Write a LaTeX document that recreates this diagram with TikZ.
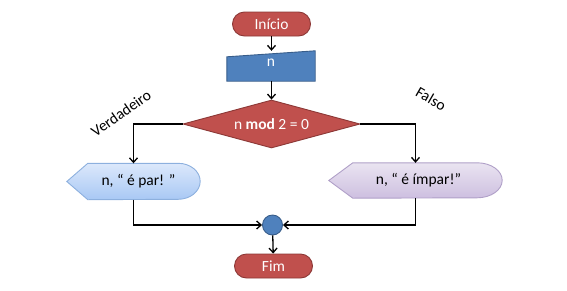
\documentclass[tikz,border=0pt]{standalone}
\usepackage{fontspec}
\setmainfont{Carlito}
\usetikzlibrary{shapes.geometric,arrows.meta}
\definecolor{redfill}{HTML}{C0504D}
\definecolor{redline}{HTML}{8C3836}
\definecolor{bluefill}{HTML}{4F81BD}
\definecolor{blueline}{HTML}{385D8A}
\definecolor{lbtop}{HTML}{DCE8FB}
\definecolor{lbbot}{HTML}{A8C8F4}
\definecolor{lbline}{HTML}{8DB0DE}
\definecolor{lptop}{HTML}{EAE4F1}
\definecolor{lpbot}{HTML}{CDBFE0}
\definecolor{lpline}{HTML}{B0A0C8}
\newcommand{\txtsize}{\fontsize{15.5}{18}\selectfont}
\tikzset{
  terminal/.style={rectangle, rounded corners=12pt, fill=redfill, draw=redline, line width=0.9pt,
    minimum width=78pt, minimum height=24pt, inner sep=0pt, text=white, font=\txtsize},
  holder/.style={rectangle, inner sep=0pt, font=\txtsize},
  flow/.style={draw=black, line width=1.3pt, -{Straight Barb[length=4.5pt,width=8pt,line width=1.3pt]}},
  lbl/.style={font=\txtsize}
}
\begin{document}
\begin{tikzpicture}[x=1pt,y=-1pt]
\useasboundingbox (0,0) rectangle (567,290);

% start / end terminators
\node[terminal] (ini) at (271.5,24) {Início};
\node[terminal] (fim) at (273.5,266) {Fim};

% manual input box for n
\node[holder, minimum width=88pt, minimum height=30pt] (inp) at (271,66) {};
\fill[bluefill, draw=blueline, line width=0.9pt]
  ([yshift=-6pt]inp.north west) -- (inp.north east) -- (inp.south east) -- (inp.south west) -- cycle;
\node[holder, text=white] at ([yshift=3pt]inp.center) {n};

% decision
\node[diamond, aspect=3.69, minimum width=177pt, minimum height=48pt, inner sep=0pt,
      fill=redfill, draw=redline, line width=0.9pt, text=white,
      font=\txtsize] (dec) at (271.5,124) {n \textbf{mod} 2 = 0};

% display boxes
\node[holder, minimum width=133pt, minimum height=36pt] (par) at (133.5,181.5) {};
\shade[top color=lbtop, bottom color=lbbot, draw=lbline, line width=0.9pt]
  (par.west) -- ([xshift=21pt]par.north west) -- ([xshift=-22pt]par.north east)
  arc[start angle=90, end angle=-90, x radius=22pt, y radius=18pt]
  -- ([xshift=21pt]par.south west) -- cycle;
\node[holder] at ([xshift=5pt]par.center) {n, “ é par! ”};

\node[holder, minimum width=173pt, minimum height=35pt] (imp) at (415.5,180.5) {};
\shade[top color=lptop, bottom color=lpbot, draw=lpline, line width=0.9pt]
  (imp.west) -- ([xshift=24pt]imp.north west) -- ([xshift=-25pt]imp.north east)
  arc[start angle=90, end angle=-90, x radius=25pt, y radius=17.5pt]
  -- ([xshift=24pt]imp.south west) -- cycle;
\node[holder] at ([xshift=3pt]imp.center) {n, “ é ímpar!”};

% junction
\node[circle, minimum size=20pt, inner sep=0pt, fill=bluefill, draw=blueline, line width=0.9pt]
  (jn) at (272.5,225) {};

% connectors
\draw[flow] (ini) -- (inp.north -| ini);
\draw[flow] (inp.south -| dec.north) -- (dec.north);
\draw[flow] (dec.west) -| (par.north);
\draw[flow] (dec.east) -| (imp.north);
\draw[flow] (par.south) |- (jn.west);
\draw[flow] (imp.south) |- (jn.east);
\draw[flow] (jn) -- (fim);

% branch labels
\node[lbl, rotate=35] (vlab) at (121,113) {Verdadeiro};
\node[lbl, rotate=-30] (flab) at (431,99) {Falso};
\end{tikzpicture}
\end{document}
